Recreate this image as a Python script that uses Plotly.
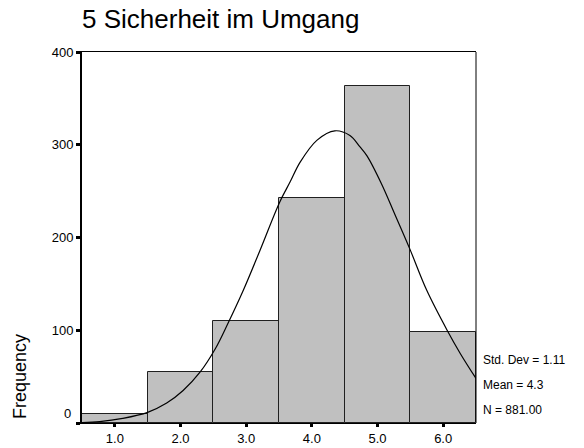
import plotly.graph_objects as go

# Histogram data
bin_centers = [1.0, 2.0, 3.0, 4.0, 5.0, 6.0]
frequencies = [10, 55, 110, 243, 363, 98]
x_tick_labels = ["1.0", "2.0", "3.0", "4.0", "5.0", "6.0"]
y_tick_vals = [0, 100, 200, 300, 400]
y_tick_labels = ["", "100", "200", "300", "400"]

# Normal curve points
curve_x = [0.5, 0.77, 1.12, 1.50, 1.79, 2.04, 2.30, 2.53, 2.72, 2.95, 3.21, 3.51,
           3.67, 3.82, 4.08, 4.35, 4.58, 4.73, 4.84, 5.06, 5.27, 5.49, 5.75, 6.06,
           6.26, 6.5]
curve_y = [0.5, 1.5, 5, 11.5, 21.5, 35, 55, 80, 107, 142, 186, 238,
           260, 281, 305, 315, 310, 298, 288, 258, 224, 188, 143, 100,
           75, 48]

stats_lines = ["Std. Dev = 1.11", "Mean = 4.3", "N = 881.00"]
stats_y = [68, 41, 14]

title_text = "5 Sicherheit im Umgang"
font_family = "Liberation Sans, Arial, sans-serif"

W, H = 584, 448
L, T, R, B = 82, 52, 108, 25
PW, PH = W - L - R, H - T - B

fig = go.Figure()
fig.add_trace(go.Bar(
    x=bin_centers, y=frequencies, width=1,
    marker=dict(color="#C0C0C0", line=dict(color="#202020", width=1)),
    hoverinfo="skip"))
fig.add_trace(go.Scatter(
    x=curve_x, y=curve_y, mode="lines",
    line=dict(color="black", width=1.2, shape="spline", smoothing=1),
    hoverinfo="skip"))

annotations = []
for t, yy in zip(stats_lines, stats_y):
    annotations.append(dict(x=1.012, xref="paper", y=yy, yref="y", text=t,
                            showarrow=False, xanchor="left", yanchor="middle",
                            font=dict(size=12, color="black", family=font_family)))
annotations.append(dict(x=0.5, xref="x", y=10, yref="y", text="0",
                        showarrow=False, xanchor="right", yanchor="middle", xshift=-9,
                        font=dict(size=13, color="black", family=font_family)))
annotations.append(dict(x=(20 - L) / PW, xref="paper", y=(423 - 377) / PH, yref="paper",
                        text="Frequency", showarrow=False, textangle=-90,
                        xanchor="center", yanchor="middle",
                        font=dict(size=18, color="black", family=font_family)))

fig.update_layout(
    width=W, height=H,
    margin=dict(l=L, r=R, t=T, b=B, pad=0),
    paper_bgcolor="white", plot_bgcolor="white",
    showlegend=False,
    bargap=0,
    title=dict(text=title_text, x=82 / W, xanchor="left",
               y=1 - 19 / H, yanchor="middle",
               font=dict(size=26, color="black", family=font_family)),
    xaxis=dict(range=[0.5, 6.5], tickvals=bin_centers, ticktext=x_tick_labels,
               ticks="outside", ticklen=3, tickwidth=3, tickcolor="black",
               showgrid=False, zeroline=False, showline=True, linecolor="black",
               linewidth=1, mirror=True, automargin=False,
               tickfont=dict(size=13, color="black", family=font_family)),
    yaxis=dict(range=[0, 400], tickvals=y_tick_vals, ticktext=y_tick_labels,
               ticks="outside", ticklen=4, tickwidth=3, tickcolor="black",
               showgrid=False, zeroline=False, showline=True, linecolor="black",
               linewidth=2, mirror=False, automargin=False,
               tickfont=dict(size=13, color="black", family=font_family)),
    annotations=annotations,
    shapes=[dict(type="line", xref="paper", yref="paper", x0=1, x1=1, y0=0, y1=1,
                 line=dict(color="black", width=1))],
)

fig.write_html("out.html",
               config={"displayModeBar": False},
               post_script="document.body.style.margin='0px';document.body.style.overflow='hidden';")
